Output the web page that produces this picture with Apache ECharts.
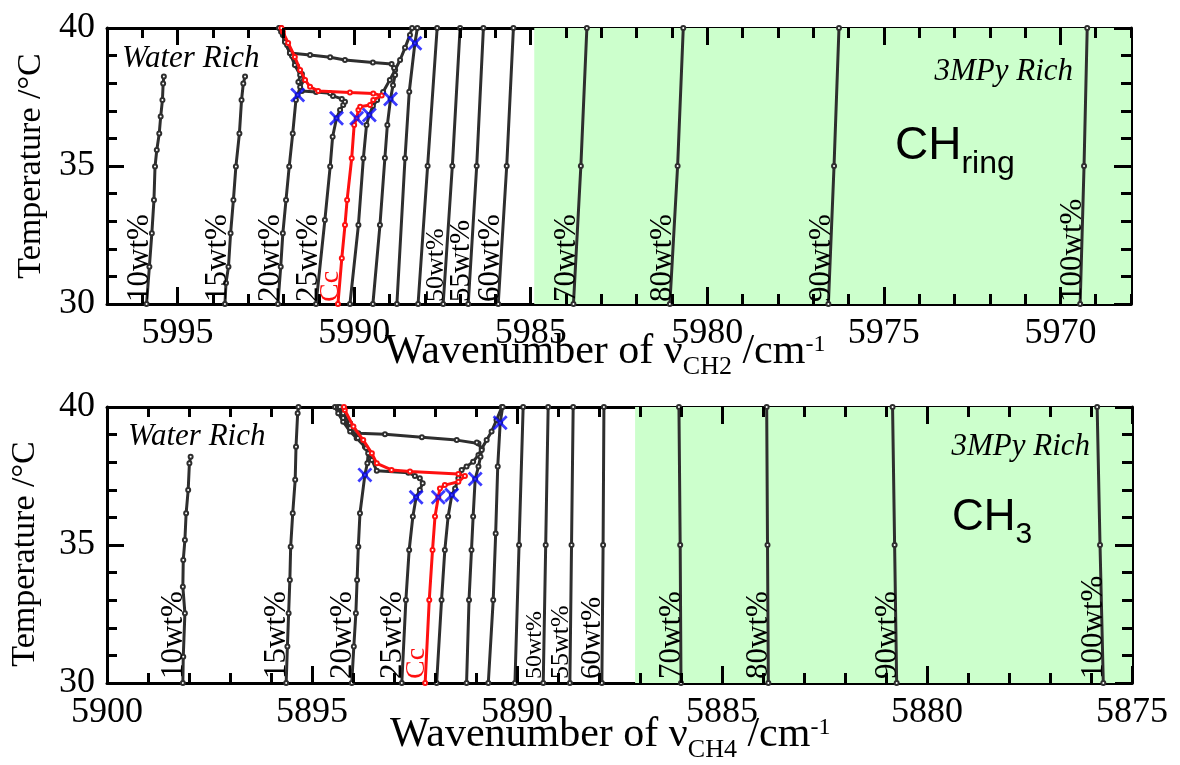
<!DOCTYPE html>
<html><head><meta charset="utf-8">
<script src="https://cdn.jsdelivr.net/npm/echarts@6/dist/echarts.min.js"></script>
<style>html,body{margin:0;padding:0;background:#fff}#c{width:1180px;height:765px}</style>
</head><body><div id="c"></div>
<script>
// ---------- upper panel: nu(CH2) of CH ring, [wavenumber /cm-1, temperature /°C] ----------
const ch2_10 = [[5995.88,30],[5995.80,31.35],[5995.73,32.56],[5995.67,33.77],[5995.64,34.98],[5995.59,35.58],[5995.52,36.18],[5995.48,36.79],[5995.43,37.39],[5995.41,37.99],[5995.39,38.24]];
const ch2_15 = [[5993.66,30],[5993.63,30.76],[5993.56,31.35],[5993.50,32.56],[5993.42,33.77],[5993.35,34.98],[5993.25,36.18],[5993.19,37.39],[5993.14,37.99],[5993.09,38.24]];
const ch2_20 = [[5992.16,30],[5992.08,31.35],[5992.02,32.56],[5991.93,33.77],[5991.84,34.98],[5991.74,36.18],[5991.65,37.39],[5991.60,37.57],[5991.53,37.86],[5991.42,38.12],[5991.48,38.33],[5991.62,38.62],[5991.76,38.99],[5991.90,39.38],[5992.02,39.75],[5992.10,40]];
const ch2_25 = [[5991.08,30],[5990.83,33.04],[5990.68,34.98],[5990.61,36.06],[5990.50,36.73],[5990.40,37.03],[5990.31,37.21],[5990.26,37.33],[5990.35,37.43],[5990.60,37.54],[5990.68,37.64],[5991.08,37.68],[5991.48,37.72],[5991.58,38.04],[5991.53,38.30],[5991.68,38.66],[5991.82,39.09],[5991.96,39.53],[5992.07,40]];
const ch2_cc = [[5990.46,30],[5990.35,31.66],[5990.26,32.86],[5990.20,33.77],[5990.07,35.28],[5990.00,36.49],[5989.93,36.73],[5989.88,37.03],[5989.83,37.15],[5989.55,37.21],[5989.46,37.39],[5989.22,37.55],[5989.46,37.63],[5990.12,37.66],[5991.02,37.72],[5991.25,37.87],[5991.39,38.12],[5991.53,38.48],[5991.68,38.95],[5991.87,39.46],[5992.02,39.86],[5992.06,40]];
const ch2_30 = [[5990.12,30],[5989.88,32.86],[5989.74,35.28],[5989.65,36.49],[5989.57,36.85],[5989.47,37.17],[5989.35,37.39],[5989.18,37.68],[5988.99,38.12],[5988.84,38.48],[5988.70,38.84],[5988.56,39.28],[5988.42,39.75],[5988.36,40]];
const ch2_35 = [[5989.47,30],[5989.27,32.86],[5989.13,35.29],[5989.06,36.49],[5988.97,37.43],[5988.90,37.93],[5988.84,38.30],[5988.87,38.55],[5988.94,38.70],[5989.47,38.75],[5990.26,38.84],[5990.68,38.94],[5991.25,39.02],[5991.82,39.09],[5991.96,39.49],[5992.07,39.86],[5992.13,40]];
const ch2_40 = [[5988.79,30],[5988.56,35.28],[5988.44,37.69],[5988.28,39.45],[5988.21,40]];
const ch2_45 = [[5988.19,30],[5987.92,35],[5987.65,40]];
const ch2_50 = [[5987.48,30],[5987.22,35],[5987.00,40]];
const ch2_55 = [[5986.77,30],[5986.53,35],[5986.34,40]];
const ch2_60 = [[5985.92,30],[5985.68,35],[5985.49,40]];
const ch2_70 = [[5983.79,30],[5983.58,35],[5983.41,40]];
const ch2_80 = [[5981.06,30],[5980.84,35],[5980.68,40]];
const ch2_90 = [[5976.57,30],[5976.41,35],[5976.27,40]];
const ch2_100 = [[5969.44,30],[5969.33,35],[5969.24,40]];
const ch2Cloud = [[5991.60,37.57],[5990.50,36.73],[5989.93,36.73],[5989.57,36.85],[5988.97,37.43],[5988.28,39.45]];

// ---------- lower panel: nu(CH4) of CH3 ----------
const ch4_10 = [[5898.15,30],[5898.14,30.95],[5898.10,32.53],[5898.15,33.49],[5898.14,34.46],[5898.10,35.18],[5898.07,36.15],[5898.02,36.99],[5897.99,37.96],[5897.96,38.20]];
const ch4_15 = [[5895.63,30],[5895.60,31.32],[5895.57,32.53],[5895.54,33.73],[5895.52,34.94],[5895.47,36.15],[5895.41,37.36],[5895.39,38.56],[5895.35,39.77],[5895.33,40]];
const ch4_20 = [[5894.03,30],[5893.98,31.32],[5893.93,32.53],[5893.90,33.73],[5893.87,34.94],[5893.83,36.15],[5893.71,37.54],[5893.65,37.96],[5893.63,38.32],[5893.71,38.56],[5893.91,38.87],[5894.07,39.11],[5894.24,39.47],[5894.36,39.77],[5894.44,40]];
const ch4_25 = [[5892.81,30],[5892.71,33.01],[5892.63,34.82],[5892.54,36.03],[5892.46,36.73],[5892.37,36.99],[5892.30,37.24],[5892.37,37.42],[5892.49,37.50],[5892.65,37.62],[5893.42,37.69],[5893.54,38.08],[5893.68,38.51],[5893.88,38.88],[5894.07,39.24],[5894.24,39.60],[5894.37,40]];
const ch4_cc = [[5892.24,30],[5892.14,33.01],[5892.06,34.82],[5892.00,36.03],[5891.92,36.73],[5891.88,37.05],[5891.76,37.17],[5891.43,37.29],[5891.27,37.50],[5891.43,37.57],[5892.61,37.66],[5893.06,37.72],[5893.42,37.96],[5893.54,38.32],[5893.75,38.80],[5893.99,39.29],[5894.20,39.89],[5894.22,40]];
const ch4_30 = [[5891.96,30],[5891.84,33.01],[5891.76,34.82],[5891.68,36.03],[5891.59,36.81],[5891.51,37.05],[5891.43,37.42],[5891.35,37.72],[5891.23,37.84],[5891.07,38.02],[5890.94,38.26],[5890.86,38.50],[5890.74,38.80],[5890.62,39.11],[5890.50,39.53],[5890.37,40]];
const ch4_35 = [[5891.23,30],[5891.17,33.01],[5891.11,34.82],[5891.07,36.03],[5891.02,37.39],[5890.94,37.84],[5890.89,38.20],[5890.86,38.44],[5890.94,38.68],[5890.98,38.71],[5891.47,38.80],[5892.32,38.90],[5893.22,39.01],[5893.87,39.05],[5894.07,39.41],[5894.24,39.77],[5894.32,40]];
const ch4_40 = [[5890.70,30],[5890.58,33.01],[5890.52,35.42],[5890.47,37.84],[5890.41,39.43],[5890.35,40]];
const ch4_45 = [[5890.05,30],[5889.95,35],[5889.85,40]];
const ch4_50 = [[5889.36,30],[5889.30,35],[5889.24,40]];
const ch4_55 = [[5888.71,30],[5888.67,35],[5888.63,40]];
const ch4_60 = [[5887.93,30],[5887.90,35],[5887.88,40]];
const ch4_70 = [[5886.00,30],[5886.02,35],[5886.05,40]];
const ch4_80 = [[5883.87,30],[5883.89,35],[5883.91,40]];
const ch4_90 = [[5880.74,30],[5880.79,35],[5880.84,40]];
const ch4_100 = [[5875.70,30],[5875.78,35],[5875.85,40]];
const ch4Cloud = [[5893.71,37.54],[5892.46,36.73],[5891.92,36.73],[5891.59,36.81],[5891.02,37.39],[5890.41,39.43]];

// 3MPy-rich region (wavenumber range)
const ch2RichBand = [5984.9, 5968];
const ch4RichBand = [5887.12, 5875];

// axis ranges and ticks
const ch2Range = [5968, 5997];
const ch4Range = [5875, 5900];
const tempRange = [30, 40];
const ch2TickMajor = [5970, 5975, 5980, 5985, 5990, 5995];
const ch2TickMinor = [5968,5969,5971,5972,5973,5974,5976,5977,5978,5979,5981,5982,5983,5984,5986,5987,5988,5989,5991,5992,5993,5994,5996,5997];
const ch4TickMajor = [5875, 5880, 5885, 5890, 5895, 5900];
const ch4TickMinor = [5876,5877,5878,5879,5881,5882,5883,5884,5886,5887,5888,5889,5891,5892,5893,5894,5896,5897,5898,5899];
const tempTickMajor = [30, 35, 40];
const tempTickMinor = [31,32,33,34,36,37,38,39];

const seriesNames = ['10wt%','15wt%','20wt%','25wt%','Cc','30wt%','35wt%','40wt%','45wt%','50wt%','55wt%','60wt%','70wt%','80wt%','90wt%','100wt%'];
const ch2Data = [ch2_10,ch2_15,ch2_20,ch2_25,ch2_cc,ch2_30,ch2_35,ch2_40,ch2_45,ch2_50,ch2_55,ch2_60,ch2_70,ch2_80,ch2_90,ch2_100];
const ch4Data = [ch4_10,ch4_15,ch4_20,ch4_25,ch4_cc,ch4_30,ch4_35,ch4_40,ch4_45,ch4_50,ch4_55,ch4_60,ch4_70,ch4_80,ch4_90,ch4_100];
const labeledNames = ['10wt%','15wt%','20wt%','25wt%','Cc','50wt%','55wt%','60wt%','70wt%','80wt%','90wt%','100wt%'];

// ---------- styles ----------
const SERIF = '"Liberation Serif", "Times New Roman", serif';
const SANS = '"Liberation Sans", Arial, sans-serif';
const labelFontTop = {'50wt%': 26, '55wt%': 29, 'Cc': 28};
const labelFontBot = {'50wt%': 24, '55wt%': 26, '60wt%': 29, 'Cc': 28};
const GRIDS = [
  {left: 107, top: 28, width: 1024, height: 276},
  {left: 107, top: 407, width: 1025, height: 276}
];
const MAJOR_PX = 17, MINOR_PX = 10;

const chart = echarts.init(document.getElementById('c'), null, {renderer: 'canvas'});

function frameLine() { return {show: true, onZero: false, lineStyle: {color: '#000', width: 3}}; }
function tickLabel(values) { return {show: true, customValues: values, fontSize: 36, fontFamily: SERIF, color: '#000', margin: 12, formatter: function (v) { return String(v); }}; }

function xAxesFor(grid, range, major) {
  function base(pos) { return {type: 'value', gridIndex: grid, min: range[0], max: range[1], inverse: true, position: pos, splitLine: {show: false}, axisTick: {show: false}}; }
  return [
    Object.assign(base('bottom'), {axisLine: frameLine(), axisLabel: tickLabel(major)}),
    Object.assign(base('top'), {axisLine: frameLine(), axisLabel: {show: false}})
  ];
}
function yAxesFor(grid) {
  function base(pos) { return {type: 'value', gridIndex: grid, min: tempRange[0], max: tempRange[1], position: pos, splitLine: {show: false}, axisTick: {show: false}}; }
  return [
    Object.assign(base('left'), {axisLine: frameLine(), axisLabel: tickLabel(tempTickMajor)}),
    Object.assign(base('right'), {axisLine: frameLine(), axisLabel: {show: false}})
  ];
}

const panels = [
  {x: 0, y: 0, grid: GRIDS[0], range: ch2Range, major: ch2TickMajor, minor: ch2TickMinor, data: ch2Data, cloud: ch2Cloud, band: ch2RichBand},
  {x: 2, y: 2, grid: GRIDS[1], range: ch4Range, major: ch4TickMajor, minor: ch4TickMinor, data: ch4Data, cloud: ch4Cloud, band: ch4RichBand}
];

// inward tick marks, drawn as markLines in data coordinates of each panel
function tickSeries(p) {
  const pxX = p.grid.width / (p.range[1] - p.range[0]);
  const pxY = p.grid.height / (tempRange[1] - tempRange[0]);
  const xl = p.range[1], xr = p.range[0], yb = tempRange[0], yt = tempRange[1];
  const lines = [];
  function add(a, b) { lines.push([{coord: a}, {coord: b}]); }
  function xt(v, len) { add([v, yb], [v, yb + len / pxY]); add([v, yt], [v, yt - len / pxY]); }
  function ytk(t, len) { add([xl, t], [xl - len / pxX, t]); add([xr, t], [xr + len / pxX, t]); }
  p.major.forEach(function (v) { xt(v, MAJOR_PX); });
  p.minor.forEach(function (v) { xt(v, MINOR_PX); });
  tempTickMajor.forEach(function (t) { ytk(t, MAJOR_PX); });
  tempTickMinor.forEach(function (t) { ytk(t, MINOR_PX); });
  return {type: 'line', xAxisIndex: p.x, yAxisIndex: p.y, data: [], silent: true, z: 8,
    markLine: {silent: true, animation: false, symbol: ['none', 'none'], label: {show: false}, emphasis: {disabled: true},
      lineStyle: {color: '#000', width: 3, type: 'solid', opacity: 1}, data: lines}};
}

const series = [];
const xShape = 'path://M0,1.3L1.3,0L5,3.7L8.7,0L10,1.3L6.3,5L10,8.7L8.7,10L5,6.3L1.3,10L0,8.7L3.7,5Z';
panels.forEach(function (p) {
  series.push({type: 'line', xAxisIndex: p.x, yAxisIndex: p.y, data: [], silent: true, z: 0,
    markArea: {silent: true, itemStyle: {color: '#ccffcc'}, data: [[{xAxis: p.band[0], yAxis: tempRange[0]}, {xAxis: p.band[1], yAxis: tempRange[1]}]]}});
  p.data.forEach(function (d, i) {
    const red = seriesNames[i] === 'Cc';
    const col = red ? '#ff1010' : '#2e2e2e';
    series.push({type: 'line', name: seriesNames[i], xAxisIndex: p.x, yAxisIndex: p.y, data: d,
      symbol: 'emptyCircle', symbolSize: 4, showSymbol: true, z: red ? 4 : 3,
      lineStyle: {color: col, width: 3}, itemStyle: {color: col, borderWidth: 1}});
  });
  series.push({type: 'scatter', xAxisIndex: p.x, yAxisIndex: p.y, data: p.cloud, symbol: xShape, symbolSize: 15,
    itemStyle: {color: '#0a0aff'}, z: 6});
  series.push(tickSeries(p));
});

const option = {
  animation: false,
  backgroundColor: '#fff',
  grid: GRIDS,
  xAxis: xAxesFor(0, ch2Range, ch2TickMajor).concat(xAxesFor(1, ch4Range, ch4TickMajor)),
  yAxis: yAxesFor(0).concat(yAxesFor(1)),
  series: series
};
chart.setOption(option);

// ---------- annotations ----------
const graphics = [];
function addLineLabels(p, fontMap, dx, bottomPx) {
  p.data.forEach(function (d, i) {
    const name = seriesNames[i];
    if (labeledNames.indexOf(name) < 0) return;
    const pt = chart.convertToPixel({xAxisIndex: p.x, yAxisIndex: p.y}, d[0]);
    const size = fontMap[name] || 31;
    graphics.push({type: 'text', x: pt[0] + dx, y: bottomPx, rotation: Math.PI / 2, z: 20,
      style: {text: name, font: size + 'px ' + SERIF, fill: name === 'Cc' ? '#ff1010' : '#000', align: 'left', verticalAlign: 'middle'}});
  });
}
const bottomTop = chart.convertToPixel({yAxisIndex: 0}, tempRange[0]);
const bottomBot = chart.convertToPixel({yAxisIndex: 2}, tempRange[0]);
addLineLabels(panels[0], labelFontTop, -7, bottomTop - 2);
addLineLabels(panels[1], labelFontBot, -9, bottomBot - 4);

function richTitle(x, y, sub) {
  return {type: 'text', x: x, y: y, z: 20, style: {
    text: '{m|Wavenumber of ν}{s|' + sub + '}{m|\u00a0/cm}{p|-1}', align: 'left', verticalAlign: 'middle',
    rich: {
      m: {fontSize: 42, fontFamily: SERIF, fill: '#000', lineHeight: 42},
      s: {fontSize: 26, fontFamily: SERIF, fill: '#000', lineHeight: 26, padding: [30, 0, 0, 0]},
      p: {fontSize: 24, fontFamily: SERIF, fill: '#000', lineHeight: 24, padding: [0, 0, 15, 0]}
    }}};
}
graphics.push(richTitle(385, 352, 'CH2'));
graphics.push(richTitle(390, 735, 'CH4'));
graphics.push({type: 'text', x: 31, y: 166, rotation: Math.PI / 2, z: 20,
  style: {text: 'Temperature /°C', font: '34px ' + SERIF, fill: '#000', align: 'center', verticalAlign: 'middle'}});
graphics.push({type: 'text', x: 25, y: 554, rotation: Math.PI / 2, z: 20,
  style: {text: 'Temperature /°C', font: '34px ' + SERIF, fill: '#000', align: 'center', verticalAlign: 'middle'}});
graphics.push({type: 'text', x: 122, y: 59, z: 20, style: {text: 'Water Rich', font: 'italic 31px ' + SERIF, fill: '#000', align: 'left', verticalAlign: 'middle'}});
graphics.push({type: 'text', x: 128, y: 437, z: 20, style: {text: 'Water Rich', font: 'italic 31px ' + SERIF, fill: '#000', align: 'left', verticalAlign: 'middle'}});
graphics.push({type: 'text', x: 1073, y: 72, z: 20, style: {text: '3MPy Rich', font: 'italic 31px ' + SERIF, fill: '#000', align: 'right', verticalAlign: 'middle'}});
graphics.push({type: 'text', x: 1090, y: 447, z: 20, style: {text: '3MPy Rich', font: 'italic 31px ' + SERIF, fill: '#000', align: 'right', verticalAlign: 'middle'}});
graphics.push({type: 'text', x: 895, y: 146, z: 20, style: {text: '{m|CH}{s|ring}', align: 'left', verticalAlign: 'middle',
  rich: {m: {fontSize: 46, fontFamily: SANS, fill: '#000', lineHeight: 46}, s: {fontSize: 32, fontFamily: SANS, fill: '#000', lineHeight: 32, padding: [36, 0, 0, 0]}}}});
graphics.push({type: 'text', x: 952, y: 518, z: 20, style: {text: '{m|CH}{s|3}', align: 'left', verticalAlign: 'middle',
  rich: {m: {fontSize: 44, fontFamily: SANS, fill: '#000', lineHeight: 44}, s: {fontSize: 30, fontFamily: SANS, fill: '#000', lineHeight: 30, padding: [34, 0, 0, 0]}}}});

chart.setOption({graphic: graphics});
</script>
</body></html>
